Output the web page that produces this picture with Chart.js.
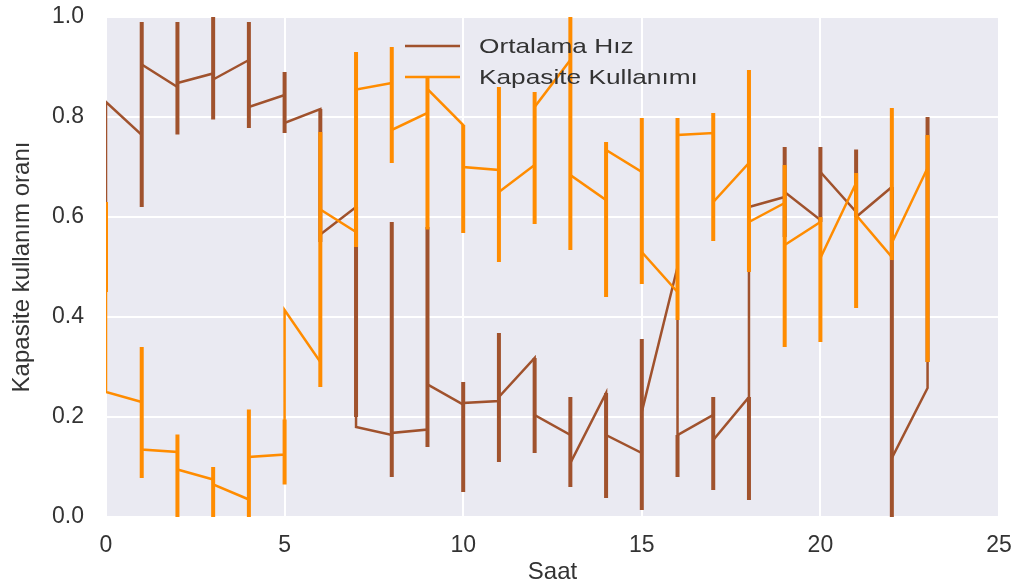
<!DOCTYPE html>
<html>
<head>
<meta charset="utf-8">
<script src="https://cdn.jsdelivr.net/npm/chart.js@4/dist/chart.umd.min.js"></script>
<style>
html,body{margin:0;padding:0;background:#fff;}
#wrap{width:1014px;height:587px;position:relative;}
</style>
</head>
<body>
<div id="wrap"><canvas id="c" width="1014" height="587"></canvas></div>
<script>
// ---- data ----
const hours = [0,1,2,3,4,5,6,7,8,9,10,11,12,13,14,15,16,17,18,19,20,21,22,23];

// Ortalama Hız: value where the line arrives at each hour, and where it leaves
const hizIn  = [0.63,0.764,0.86,0.887,0.914,0.844,0.816,0.62,0.164,0.175,0.225,0.232,0.318,0.164,0.248,0.128,0.50,0.204,0.24,0.64,0.594,0.61,0.66,0.258];
const hizOut = [0.83,0.905,0.868,0.875,0.82,0.788,0.565,0.18,0.168,0.265,0.228,0.24,0.204,0.108,0.164,0.21,0.164,0.154,0.62,0.65,0.69,0.60,0.118,0.31];
const hizLo  = [0.83,0.62,0.765,0.795,0.778,0.768,0.55,0.20,0.08,0.14,0.05,0.11,0.128,0.06,0.038,0.014,0.08,0.054,0.034,0.56,0.59,0.60,0.0,0.31];
const hizHi  = [0.83,0.99,0.99,1.0,0.99,0.89,0.816,0.62,0.59,0.58,0.27,0.368,0.318,0.24,0.248,0.356,0.164,0.24,0.24,0.74,0.74,0.735,0.66,0.80];

// Kapasite Kullanımı
const kapIn  = [0.45,0.23,0.13,0.075,0.035,0.125,0.31,0.57,0.868,0.808,0.784,0.694,0.704,0.914,0.634,0.69,0.45,0.768,0.708,0.628,0.59,0.668,0.52,0.698];
const kapOut = [0.25,0.135,0.095,0.065,0.12,0.414,0.615,0.855,0.774,0.856,0.70,0.65,0.82,0.684,0.734,0.53,0.764,0.63,0.59,0.544,0.518,0.604,0.548,0.698];
const kapLo  = [0.45,0.078,0.0,0.0,0.0,0.065,0.26,0.54,0.708,0.575,0.568,0.51,0.586,0.534,0.44,0.466,0.394,0.552,0.49,0.34,0.35,0.418,0.514,0.31];
const kapHi  = [0.63,0.34,0.165,0.10,0.215,0.195,0.77,0.93,0.94,0.88,0.784,0.86,0.85,1.0,0.75,0.798,0.798,0.808,0.894,0.704,0.60,0.688,0.818,0.764];

const xTicks = [0,5,10,15,20,25];
const yTicks = [0.0,0.2,0.4,0.6,0.8,1.0];
const seriesNames = ['Ortalama Hız','Kapasite Kullanımı'];
const xTitle = 'Saat';
const yTitle = 'Kapasite kullanım oranı';

// ---- build datasets ----
function linePts(inArr, outArr){
  const pts = [];
  hours.forEach((h,i)=>{ pts.push({x:h,y:inArr[i]}); pts.push({x:h,y:outArr[i]}); });
  return pts;
}
function barPts(lo, hi){
  const pts = [];
  hours.forEach((h,i)=>{ pts.push({x:h,y:lo[i]}); pts.push({x:h,y:hi[i]}); pts.push({x:h,y:null}); });
  return pts;
}
const BROWN = '#a0522d', ORANGE = '#ff8c00';
const TEXT = '#333333';
const FONT = "'Liberation Sans', Arial, sans-serif";

const bgPlugin = {
  id:'bg',
  beforeDraw(chart){
    const {ctx, chartArea:a} = chart;
    ctx.save(); ctx.fillStyle = '#eaeaf2';
    ctx.fillRect(a.left, a.top, a.right-a.left, a.bottom-a.top);
    ctx.restore();
  }
};
const legendPlugin = {
  id:'customLegend',
  afterDatasetsDraw(chart){
    const {ctx, chartArea:a} = chart;
    const items = [[seriesNames[0], BROWN],[seriesNames[1], ORANGE]];
    ctx.save();
    items.forEach((it,i)=>{
      const y = a.top + 29 + i*31;
      ctx.strokeStyle = it[1]; ctx.lineWidth = 2.5; ctx.lineCap='butt';
      ctx.beginPath(); ctx.moveTo(a.left+299, y); ctx.lineTo(a.left+354, y); ctx.stroke();
      ctx.save();
      ctx.translate(a.left+373, y+1);
      ctx.scale(1.25,1);
      ctx.fillStyle = TEXT; ctx.font = "21px " + FONT; ctx.textBaseline='middle';
      ctx.fillText(it[0], 0, 0);
      ctx.restore();
    });
    ctx.restore();
  }
};

new Chart(document.getElementById('c'), {
  type:'line',
  data:{
    datasets:[
      {label:seriesNames[1]+' err', data:barPts(kapLo,kapHi), borderColor:ORANGE, borderWidth:4, pointRadius:0, spanGaps:false, borderCapStyle:'butt', clip:0, order:0},
      {label:seriesNames[1], data:linePts(kapIn,kapOut), borderColor:ORANGE, borderWidth:2.5, pointRadius:0, tension:0, clip:0, order:1},
      {label:seriesNames[0]+' err', data:barPts(hizLo,hizHi), borderColor:BROWN, borderWidth:4, pointRadius:0, spanGaps:false, borderCapStyle:'butt', clip:0, order:2},
      {label:seriesNames[0], data:linePts(hizIn,hizOut), borderColor:BROWN, borderWidth:2.5, pointRadius:0, tension:0, clip:0, order:3}
    ]
  },
  options:{
    responsive:false, animation:false, devicePixelRatio:1,
    layout:{padding:{top:17,right:15,left:0,bottom:0}},
    plugins:{legend:{display:false}, tooltip:{enabled:false}},
    scales:{
      x:{
        type:'linear', min:0, max:25,
        afterBuildTicks(s){ s.ticks = xTicks.map(v=>({value:v})); },
        afterFit(s){ s.height = 70; s.paddingLeft = 0; s.paddingRight = 0; },
        grid:{color:'#ffffff', lineWidth:2, drawTicks:false},
        border:{display:false},
        ticks:{padding:15, color:TEXT, font:{family:FONT, size:23}, callback:v=>String(v), maxRotation:0},
        title:{display:true, text:xTitle, color:TEXT, font:{family:FONT, size:24}, padding:{top:0,bottom:0}}
      },
      y:{
        type:'linear', min:0, max:1,
        afterBuildTicks(s){ s.ticks = yTicks.map(v=>({value:v})); },
        afterFit(s){ s.width = 106; s.paddingTop = 0; s.paddingBottom = 0; },
        grid:{color:'#ffffff', lineWidth:2, drawTicks:false},
        border:{display:false},
        ticks:{padding:22, color:TEXT, font:{family:FONT, size:23}, callback:v=>Number(v).toFixed(1)},
        title:{display:true, text:yTitle, color:TEXT, font:{family:FONT, size:24}, padding:{top:8,bottom:0}}
      }
    }
  },
  plugins:[bgPlugin, legendPlugin]
});
</script>
</body>
</html>
